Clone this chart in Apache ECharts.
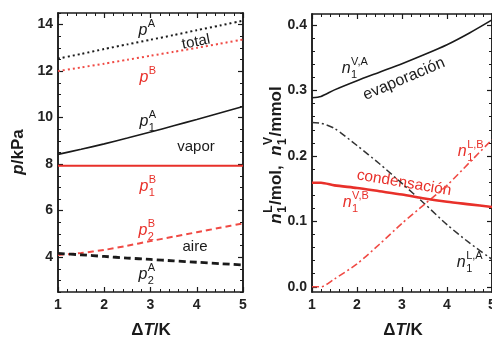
<!DOCTYPE html>
<html><head><meta charset="utf-8">
<script src="https://cdn.jsdelivr.net/npm/echarts@6/dist/echarts.min.js"></script>
<style>html,body{margin:0;padding:0;background:#fff}#c{width:492px;height:338px}</style>
</head><body><div id="c"></div>
<script>
// ---- data ----
const xTicks = [1, 2, 3, 4, 5];
const leftYTicks = [4, 6, 8, 10, 12, 14];
const rightYTicks = [0, 0.1, 0.2, 0.3, 0.4];
const rightYMinor = [0, 0.02, 0.04, 0.06, 0.08, 0.1, 0.12, 0.14, 0.16, 0.18, 0.2, 0.22, 0.24, 0.26, 0.28, 0.3, 0.32, 0.34, 0.36, 0.38, 0.4];

const xLeft   = [1, 1.5, 2, 2.5, 3, 3.5, 4, 4.5, 5];
const pTotalA = [12.54, 12.74, 12.95, 13.15, 13.35, 13.55, 13.76, 13.96, 14.17];
const pTotalB = [12.0, 12.16, 12.32, 12.49, 12.66, 12.83, 13.0, 13.18, 13.36];
const p1A     = [8.42, 8.64, 8.87, 9.12, 9.38, 9.65, 9.92, 10.2, 10.48];
const p1B     = [7.93, 7.93, 7.93, 7.93, 7.93, 7.93, 7.93, 7.93, 7.93];
const p2B     = [4.09, 4.18, 4.31, 4.49, 4.69, 4.88, 5.07, 5.26, 5.45];
const p2A     = [4.16, 4.1, 4.03, 3.96, 3.9, 3.84, 3.78, 3.72, 3.66];

const xRight = [1, 1.2, 1.5, 2, 2.5, 3, 3.5, 4, 4.5, 5];
const n1VA = [0.289, 0.291, 0.301, 0.315, 0.328, 0.341, 0.355, 0.370, 0.388, 0.408];
const n1LA = [0.251, 0.250, 0.242, 0.216, 0.188, 0.158, 0.127, 0.095, 0.067, 0.042];
const n1LB = [0.0, 0.0, 0.012, 0.035, 0.065, 0.097, 0.126, 0.155, 0.19, 0.225];
const n1VB = [0.159, 0.159, 0.155, 0.151, 0.146, 0.141, 0.135, 0.130, 0.126, 0.122];

// ---- style ----
const FAM = '"Liberation Sans", Arial, Helvetica, sans-serif';
const BLACK = '#1a1a1a';
const RED = '#e8302a';
const RED_L = '#f04a44';

const pairs = (xs, ys) => xs.map((x, i) => [x, ys[i]]);
const AXLINE = { show: true, onZero: false, lineStyle: { color: BLACK, width: 1.5 } };

function xAx(grid, pos, labels) {
  return {
    type: 'value', gridIndex: grid, position: pos, min: 1, max: 5, interval: 1,
    axisLine: AXLINE,
    axisTick: { show: true, inside: true, length: 5, lineStyle: { color: BLACK, width: 1.2 } },
    minorTick: { show: true, splitNumber: 5, length: 3, lineStyle: { color: BLACK, width: 1 } },
    splitLine: { show: false }, minorSplitLine: { show: false },
    axisLabel: { show: labels, margin: 6, fontSize: 14, fontWeight: 'bold', color: '#222', fontFamily: FAM,
                 customValues: xTicks }
  };
}
function yMain(grid, pos, labels, min, max, ticks, fmt) {
  return {
    type: 'value', gridIndex: grid, position: pos, min: min, max: max,
    axisLine: AXLINE,
    axisTick: { show: true, inside: true, length: 5, customValues: ticks, lineStyle: { color: BLACK, width: 1.2 } },
    splitLine: { show: false },
    axisLabel: { show: labels, customValues: ticks, margin: 5, fontSize: 14, fontWeight: 'bold', color: '#222', fontFamily: FAM, formatter: fmt }
  };
}
function yMinor(grid, pos, min, max, opt) {
  return Object.assign({
    type: 'value', gridIndex: grid, position: pos, min: min, max: max,
    axisLine: AXLINE,
    axisTick: Object.assign({ show: true, inside: true, length: 3, lineStyle: { color: BLACK, width: 1 } }, opt.tick || {}),
    splitLine: { show: false },
    axisLabel: { show: false }
  }, opt.extra || {});
}

function line(xi, yi, xs, ys, color, width, type) {
  return {
    type: 'line', xAxisIndex: xi, yAxisIndex: yi, data: pairs(xs, ys),
    showSymbol: false, smooth: 0.25, silent: true,
    lineStyle: { color: color, width: width, type: type }
  };
}

// ---- text helpers ----
const mctx = document.createElement('canvas').getContext('2d');
function tw(t, f) { mctx.font = f; return mctx.measureText(t).width; }
function fstr(size, italic, bold) { return (italic ? 'italic ' : '') + (bold ? 'bold ' : '') + size + 'px ' + FAM; }
function label(segs, cx, cy, o) {
  o = o || {};
  const size = o.size || 15, color = o.color || BLACK, bold = !!o.bold;
  const small = o.small || Math.round(size * 0.7);
  const ch = []; let x = 0;
  segs.forEach(s => {
    if (s.t) {
      const f = fstr(size, s.i, bold);
      ch.push({ type: 'text', x: x, y: 0, style: { text: s.t, font: f, fill: color, verticalAlign: 'middle', align: 'left' } });
      x += tw(s.t, f);
    }
    if (s.sub || s.sup) {
      const f = fstr(small, false, bold);
      let w = 0;
      if (s.sup) { ch.push({ type: 'text', x: x + 0.5, y: -size * 0.45, style: { text: s.sup, font: f, fill: color, verticalAlign: 'middle', align: 'left' } }); w = Math.max(w, tw(s.sup, f)); }
      if (s.sub) { ch.push({ type: 'text', x: x + 0.5, y: size * 0.4, style: { text: s.sub, font: f, fill: color, verticalAlign: 'middle', align: 'left' } }); w = Math.max(w, tw(s.sub, f)); }
      x += w + 1;
    }
  });
  ch.forEach(c => { c.x -= x / 2; });
  return { type: 'group', x: cx, y: cy, rotation: o.rot || 0, children: ch, silent: true };
}

const graphics = [
  // axis names
  label([{ t: 'p', i: true }, { t: '/kPa' }], 18, 152, { size: 17, bold: true, rot: Math.PI / 2 }),
  label([{ t: 'n', i: true, sub: '1', sup: 'L' }, { t: '/mol,  ' }, { t: 'n', i: true, sub: '1', sup: 'V' }, { t: '/mmol' }], 276, 155, { size: 17, small: 12, bold: true, rot: Math.PI / 2 }),
  label([{ t: 'Δ' }, { t: 'T', i: true }, { t: '/K' }], 151, 330, { size: 17, bold: true }),
  label([{ t: 'Δ' }, { t: 'T', i: true }, { t: '/K' }], 403, 330, { size: 17, bold: true }),
  // left panel annotations
  label([{ t: 'p', i: true, sup: 'A' }], 147, 31, { size: 16, small: 11 }),
  label([{ t: 'total' }], 196, 42, { size: 15, rot: 0.19 }),
  label([{ t: 'p', i: true, sup: 'B' }], 148, 78, { size: 16, small: 11, color: RED }),
  label([{ t: 'p', i: true, sub: '1', sup: 'A' }], 148, 122, { size: 16, small: 11 }),
  label([{ t: 'vapor' }], 196, 147, { size: 15 }),
  label([{ t: 'p', i: true, sub: '1', sup: 'B' }], 148, 187, { size: 16, small: 11, color: RED }),
  label([{ t: 'p', i: true, sub: '2', sup: 'B' }], 147, 231, { size: 16, small: 11, color: RED }),
  label([{ t: 'aire' }], 195, 247, { size: 15 }),
  label([{ t: 'p', i: true, sub: '2', sup: 'A' }], 147, 275, { size: 16, small: 11 }),
  // right panel annotations
  label([{ t: 'n', i: true, sub: '1', sup: 'V,A' }], 355, 69, { size: 16, small: 11 }),
  label([{ t: 'evaporación' }], 404, 79, { size: 16, rot: 0.4 }),
  label([{ t: 'n', i: true, sub: '1', sup: 'L,B' }], 471, 152, { size: 16, small: 11, color: RED }),
  label([{ t: 'condensación' }], 404, 183, { size: 15.5, color: RED, rot: -0.17 }),
  label([{ t: 'n', i: true, sub: '1', sup: 'V,B' }], 356, 203, { size: 16, small: 11, color: RED }),
  label([{ t: 'n', i: true, sub: '1', sup: 'L,A' }], 470, 263, { size: 16, small: 11 })
];

const chart = echarts.init(document.getElementById('c'), null, { renderer: 'canvas' });
chart.setOption({
  animation: false,
  backgroundColor: '#fff',
  grid: [
    { left: 58, top: 13, width: 185, height: 279, show: false, outerBoundsMode: 'none', containLabel: false },
    { left: 312, top: 14, width: 180, height: 278, show: false, outerBoundsMode: 'none', containLabel: false }
  ],
  xAxis: [xAx(0, 'bottom', true), xAx(0, 'top', false), xAx(1, 'bottom', true), xAx(1, 'top', false)],
  yAxis: [
    yMain(0, 'left', true, 2.5, 14.5, leftYTicks, v => String(v)),
    yMain(0, 'right', false, 2.5, 14.5, leftYTicks),
    yMinor(0, 'left', 2.5, 14.5, { extra: { interval: 0.5 } }),
    yMinor(0, 'right', 2.5, 14.5, { extra: { interval: 0.5 } }),
    yMain(1, 'left', true, -0.008, 0.417, rightYTicks, v => v.toFixed(1)),
    yMain(1, 'right', false, -0.008, 0.417, rightYTicks),
    yMinor(1, 'left', -0.008, 0.417, { tick: { customValues: rightYMinor } }),
    yMinor(1, 'right', -0.008, 0.417, { tick: { customValues: rightYMinor } })
  ],
  series: [
    line(0, 0, xLeft, pTotalA, BLACK, 2, [2, 3]),
    line(0, 0, xLeft, pTotalB, RED_L, 2, [2, 3]),
    line(0, 0, xLeft, p1A, BLACK, 1.6, 'solid'),
    line(0, 0, xLeft, p1B, RED, 2, 'solid'),
    line(0, 0, xLeft, p2B, RED_L, 2, [6, 4]),
    line(0, 0, xLeft, p2A, BLACK, 2.8, [7, 4]),
    line(2, 4, xRight, n1VA, BLACK, 1.6, 'solid'),
    line(2, 4, xRight, n1LA, '#333', 1.5, [7, 3, 2, 3]),
    line(2, 4, xRight, n1LB, RED_L, 1.6, [7, 3, 2, 3]),
    line(2, 4, xRight, n1VB, RED, 2.6, 'solid')
  ],
  graphic: graphics
});
</script>
</body></html>
